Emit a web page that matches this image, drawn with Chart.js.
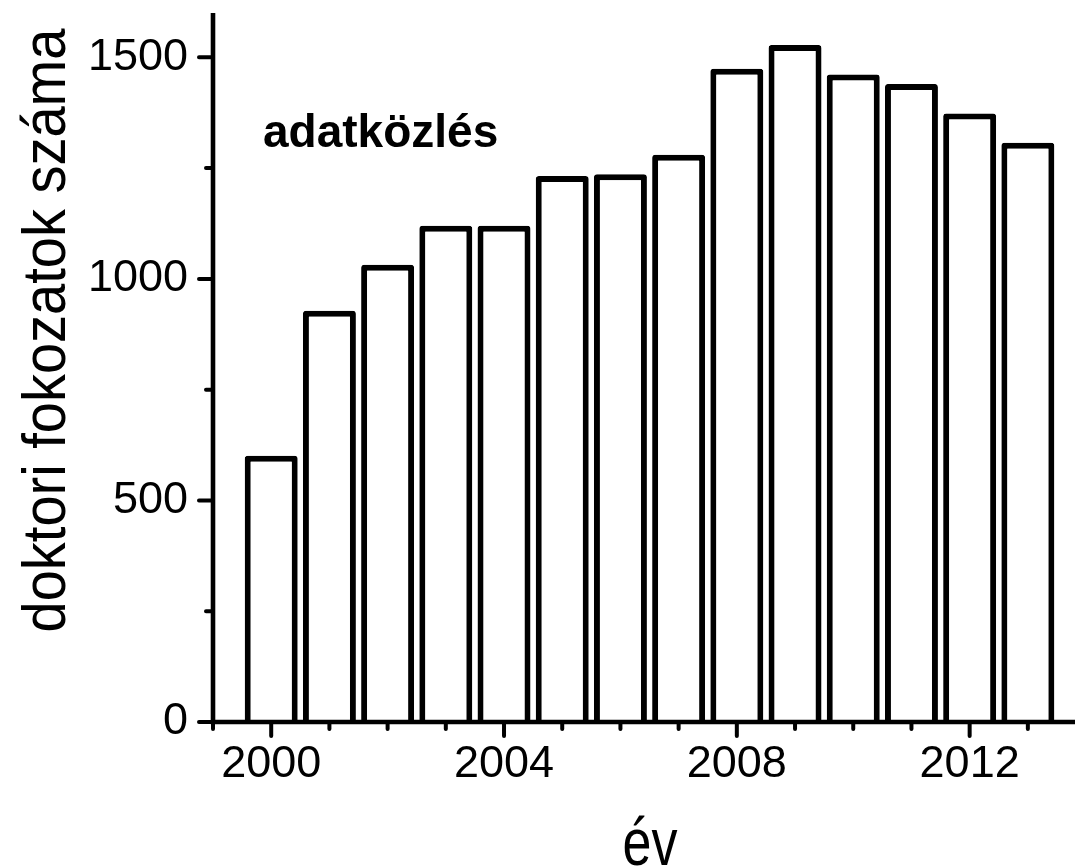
<!DOCTYPE html>
<html><head><meta charset="utf-8">
<script src="https://cdn.jsdelivr.net/npm/chart.js@4"></script>
<style>html,body{margin:0;padding:0;background:#fff}#wrap{width:1075px;height:866px}</style>
</head><body><div id="wrap"><canvas id="c" width="1075" height="866"></canvas></div>
<script>
const years = [2000,2001,2002,2003,2004,2005,2006,2007,2008,2009,2010,2011,2012,2013];
const values = [601,928,1032,1120,1120,1232,1236,1280,1474,1528,1461,1440,1373,1307];
const xTickLabels = ['2000','2004','2008','2012'];
const yTickLabels = ['0','500','1000','1500'];
const xTitle = 'év';
const yTitle = 'doktori fokozatok száma';
const annotation = 'adatközlés';

const FONT = "'Liberation Sans', Arial, sans-serif";

const decor = {
  id: 'decor',
  afterDatasetsDraw(chart) {
    const ctx = chart.ctx, xs = chart.scales.x, ys = chart.scales.y, ca = chart.chartArea;
    const x0 = xs.getPixelForValue(xs.min), y0 = ys.getPixelForValue(0);
    ctx.save();
    ctx.strokeStyle = '#000';
    ctx.lineWidth = 4.6;
    ctx.lineCap = 'butt';
    ctx.beginPath();
    ctx.moveTo(x0, ca.top); ctx.lineTo(x0, y0 + 2.3);
    ctx.moveTo(x0 - 2.3, y0); ctx.lineTo(ca.right, y0);
    ctx.stroke();
    ctx.lineCap = 'round';
    ctx.lineWidth = 4;
    ctx.beginPath();
    xs.ticks.forEach(t => {
      if (!Number.isInteger(t.value)) return;
      const px = xs.getPixelForValue(t.value);
      const len = (t.value % 4 === 0) ? 14 : 7;
      ctx.moveTo(px, y0); ctx.lineTo(px, y0 + len);
    });
    ys.ticks.forEach(t => {
      const py = ys.getPixelForValue(t.value);
      const len = (t.value % 500 === 0) ? 14 : 7;
      ctx.moveTo(x0, py); ctx.lineTo(x0 - len, py);
    });
    ctx.stroke();
    ctx.fillStyle = '#000';
    // annotation
    ctx.font = 'bold 46px ' + FONT;
    ctx.textAlign = 'left'; ctx.textBaseline = 'alphabetic';
    ctx.fillText(annotation, ca.left + 50, ca.top + 134);
    // x title
    ctx.save();
    ctx.translate((ca.left + ca.right) / 2 + 6, 865);
    ctx.scale(1, 1.29);
    ctx.font = '52px ' + FONT;
    ctx.textAlign = 'center'; ctx.textBaseline = 'alphabetic';
    ctx.fillText(xTitle, 0, 0);
    ctx.restore();
    // y title
    ctx.save();
    ctx.translate(65, (ca.top + ca.bottom) / 2 - 37);
    ctx.rotate(-Math.PI / 2);
    ctx.scale(1, 1.1);
    ctx.font = '56px ' + FONT;
    ctx.textAlign = 'center'; ctx.textBaseline = 'alphabetic';
    ctx.fillText(yTitle, 0, 0);
    ctx.restore();
    ctx.restore();
  }
};

new Chart(document.getElementById('c'), {
  type: 'bar',
  data: {
    datasets: [{
      data: years.map((y, i) => ({x: y, y: values[i]})),
      backgroundColor: '#ffffff',
      borderColor: '#000000',
      borderWidth: 6,
      borderRadius: 3,
      borderSkipped: 'start',
      barPercentage: 0.91,
      categoryPercentage: 1.0
    }]
  },
  options: {
    responsive: false,
    devicePixelRatio: 1,
    animation: false,
    layout: {padding: {left: 0, right: 0, top: 13, bottom: 0}},
    plugins: {legend: {display: false}, tooltip: {enabled: false}},
    scales: {
      x: {
        type: 'linear', min: 1999, max: 2013.81, offset: false,
        grid: {display: false, drawTicks: false},
        border: {display: false},
        ticks: {
          stepSize: 1, autoSkip: false, includeBounds: false, maxRotation: 0, minRotation: 0,
          padding: 16, color: '#000', font: {family: FONT, size: 45},
          callback: v => xTickLabels.includes(String(v)) ? String(v) : ''
        },
        afterFit: s => { s.height = 144; s.paddingLeft = 0; s.paddingRight = 0; s.paddingTop = 0; s.paddingBottom = 0; }
      },
      y: {
        min: 0, max: 1600,
        grid: {display: false, drawTicks: false},
        border: {display: false},
        ticks: {
          stepSize: 250, includeBounds: false, padding: 25, color: '#000', font: {family: FONT, size: 45},
          callback: v => yTickLabels.includes(String(v)) ? String(v) : ''
        },
        afterFit: s => { s.width = 213; s.paddingLeft = 0; s.paddingRight = 0; s.paddingTop = 0; s.paddingBottom = 0; }
      }
    }
  },
  plugins: [decor]
});
</script>
</body></html>
